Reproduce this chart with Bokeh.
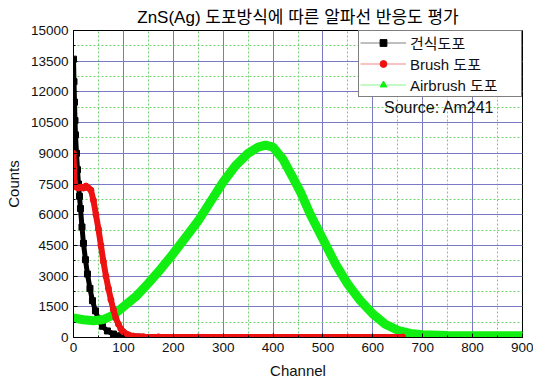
from bokeh.plotting import figure
from bokeh.models import (Range1d, SingleIntervalTicker, Legend, LegendItem, Label)
from bokeh.embed import file_html
from bokeh.resources import INLINE

# ---- data ----
dry_ch = [0, 1, 2, 3, 4, 6, 8, 10, 12, 14, 17, 20, 24, 28, 33, 38, 44, 50, 58, 68, 80, 95, 110, 130]
dry_counts = [13600, 12500, 11500, 10600, 9900, 9000, 8200, 7500, 6900, 6300, 5400, 4600, 3800,
              3100, 2400, 1800, 1300, 900, 550, 320, 170, 80, 40, 20]

brush_ch = [0, 1, 2, 3, 5, 10, 15, 20, 25, 30, 35, 40, 45, 50, 55, 60, 65, 70, 75, 80, 85, 90,
            95, 100, 110, 120, 140, 170, 250, 400, 550, 660]
brush_counts = [9000, 8300, 7600, 7400, 7350, 7300, 7350, 7300, 7400, 7300, 7200, 6700, 6000,
                5300, 4500, 3700, 3000, 2400, 1850, 1350, 950, 650, 420, 280, 130, 70, 40, 30,
                25, 20, 20, 20]

air_ch = [0, 20, 40, 60, 80, 100, 125, 150, 175, 200, 225, 250, 275, 300, 325, 350, 370, 385,
          400, 420, 440, 455, 475, 500, 525, 550, 575, 600, 625, 650, 675, 700, 750, 800, 850, 900]
air_counts = [950, 870, 820, 880, 1100, 1500, 2000, 2650, 3350, 4100, 4900, 5700, 6650, 7600,
              8400, 9000, 9300, 9400, 9300, 8700, 7800, 7100, 6000, 4800, 3600, 2600, 1800, 1150,
              650, 350, 200, 130, 100, 90, 90, 90]

series_labels = ["건식도포", "Brush 도포", "Airbrush 도포"]
title_text = "ZnS(Ag) 도포방식에 따른 알파선 반응도 평가"
source_text = "Source: Am241"

FONT = "Liberation Sans, Noto Sans CJK KR"
BLACK, RED, GREEN = "#000000", "#ee1111", "#11ee11"

p = figure(width=533, height=381, output_backend="svg", toolbar_location=None,
           x_range=Range1d(0, 900), y_range=Range1d(0, 15000),
           min_border_left=73, min_border_right=11, min_border_top=30, min_border_bottom=44,
           background_fill_color="white", border_fill_color="white")

p.title.text = title_text
p.title.align = "center"
p.title.text_font = FONT
p.title.text_font_size = "17px"
p.title.text_font_style = "normal"
p.title.text_color = "#000000"
p.title.standoff = 8

p.outline_line_color = "black"
p.outline_line_width = 1

p.xaxis.ticker = SingleIntervalTicker(interval=100, num_minor_ticks=2)
p.yaxis.ticker = SingleIntervalTicker(interval=1500, num_minor_ticks=2)

for ax in (p.xaxis[0], p.yaxis[0]):
    ax.axis_line_color = "black"
    ax.major_tick_in = 4
    ax.major_tick_out = 0
    ax.minor_tick_in = 2
    ax.minor_tick_out = 0
    ax.major_label_text_font = FONT
    ax.major_label_text_font_size = "13.5px"
    ax.major_label_text_color = "#111111"
    ax.axis_label_text_font = FONT
    ax.axis_label_text_font_size = "15px"
    ax.axis_label_text_font_style = "normal"
    ax.axis_label_text_color = "#111111"

p.xaxis.axis_label = "Channel"
p.yaxis.axis_label = "Counts"
p.xaxis.major_label_standoff = 5
p.yaxis.major_label_standoff = 5
p.xaxis.axis_label_standoff = 7
p.yaxis.axis_label_standoff = 6

for g in (p.xgrid[0], p.ygrid[0]):
    g.grid_line_color = "#7a7ac4"
    g.grid_line_width = 1
    g.minor_grid_line_color = "#6fd06f"
    g.minor_grid_line_dash = "2 2"
    g.minor_grid_line_width = 1

# curves: thin line + markers (used for the legend swatch), then the thick trace on top
order = [(0, BLACK, "square", dry_ch, dry_counts, 5),
         (2, GREEN, "triangle", air_ch, air_counts, 9),
         (1, RED, "circle", brush_ch, brush_counts, 6)]
legend_parts = {}
for idx, col, mk, xs, ys, lw in order:
    ln = p.line(xs, ys, color=col, line_width=1, line_alpha=0.5)
    sc = p.scatter(xs, ys, marker=mk, size=6, color=col)
    p.line(xs, ys, color=col, line_width=lw)
    legend_parts[idx] = [ln, sc]

items = [LegendItem(label=lab, renderers=legend_parts[i]) for i, lab in enumerate(series_labels)]

legend = Legend(items=items, location="top_right", margin=0, padding=1, spacing=0,
                glyph_width=46, glyph_height=17, label_height=17, label_width=110,
                label_standoff=4,
                label_text_font=FONT, label_text_font_size="15px", label_text_color="#111111",
                border_line_color="black", border_line_width=1,
                background_fill_color="white", background_fill_alpha=1.0)
p.add_layout(legend)

p.add_layout(Label(x=733, y=11230, text=source_text, text_align="center",
                   text_baseline="middle", text_font=FONT, text_font_size="16px",
                   text_color="#111111"))

open("out.html", "w").write(file_html(p, INLINE))
